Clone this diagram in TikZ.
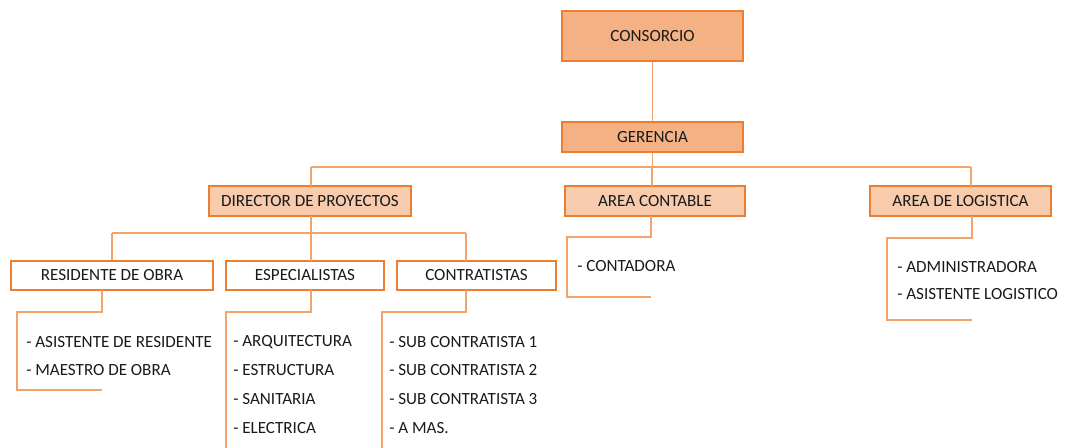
\documentclass[tikz,border=0pt]{standalone}
\usepackage{fontspec}
\setmainfont{Carlito}
\definecolor{org}{HTML}{ED7D31}
\definecolor{lineorg}{HTML}{F4A46A}
\definecolor{fillA}{HTML}{F4B183}
\definecolor{fillB}{HTML}{F8CBAD}
\definecolor{txt}{HTML}{1A1A1A}
\begin{document}
\begin{tikzpicture}[x=0.75pt,y=-0.75pt,
  box/.style={draw=org,line width=0.9pt,inner sep=0pt,font=\fontsize{12.8}{14}\selectfont,text=txt},
  topbox/.style={box,fill=fillA},
  midbox/.style={box,fill=fillB},
  lowbox/.style={box,fill=white},
  conn/.style={draw=lineorg,line width=0.9pt},
  item/.style={anchor=west,inner sep=0pt,font=\fontsize{12.8}{14}\selectfont,text=txt}]
\useasboundingbox (0,0) rectangle (1071,448);
% boxes
\node[topbox,minimum width=181*0.75pt,minimum height=50*0.75pt] (cons) at (652.5,36) {CONSORCIO};
\node[topbox,minimum width=181*0.75pt,minimum height=30*0.75pt] (ger) at (652.5,137) {GERENCIA};
\node[midbox,minimum width=202*0.75pt,minimum height=30*0.75pt] (dir) at (310,201) {DIRECTOR DE PROYECTOS};
\node[midbox,minimum width=180*0.75pt,minimum height=30*0.75pt] (cont) at (655,201) {AREA CONTABLE};
\node[midbox,minimum width=181*0.75pt,minimum height=30*0.75pt] (log) at (960.5,201) {AREA DE LOGISTICA};
\node[lowbox,minimum width=202*0.75pt,minimum height=29*0.75pt] (res) at (112,275.5) {RESIDENTE DE OBRA};
\node[lowbox,minimum width=158*0.75pt,minimum height=29*0.75pt] (esp) at (305,275.5) {ESPECIALISTAS};
\node[lowbox,minimum width=159*0.75pt,minimum height=29*0.75pt] (ctr) at (476.5,275.5) {CONTRATISTAS};
% connectors
\draw[conn] (cons.south) -- (ger.north);
\coordinate (gb) at (652.5,167);
\draw[conn] (ger.south) -- (gb);
\draw[conn] (311,167) -- (971,167);
\draw[conn] (311,167) -- (311,186);
\draw[conn] (652,167) -- (652,186);
\draw[conn] (971,167) -- (971,186);
\draw[conn] (311,216) -- (311,233);
\draw[conn] (112,233) -- (466,233);
\draw[conn] (112,233) -- (res.north);
\draw[conn] (311,233) -- (311,261);
\draw[conn] (466,233) -- (466,261);
% brackets
\draw[conn] (102,290) -- (102,312) -- (17,312) -- (17,390) -- (102,390);
\draw[conn] (311,290) -- (311,312) -- (226,312) -- (226,449);
\draw[conn] (466,290) -- (466,312) -- (382,312) -- (382,449);
\draw[conn] (651,216) -- (651,237) -- (567,237) -- (567,297) -- (651,297);
\draw[conn] (972,216) -- (972,238) -- (887,238) -- (887,320) -- (972,320);
% items
\node[item] (r1) at (26,342) {- ASISTENTE DE RESIDENTE};
\node[item] (r2) at (26,370) {- MAESTRO DE OBRA};
\node[item] (e1) at (233,342) {- ARQUITECTURA};
\node[item] (e2) at (233,370) {- ESTRUCTURA};
\node[item] (e3) at (233,399) {- SANITARIA};
\node[item] (e4) at (233,428) {- ELECTRICA};
\node[item] (c1) at (389,342) {- SUB CONTRATISTA 1};
\node[item] (c2) at (389,370) {- SUB CONTRATISTA 2};
\node[item] (c3) at (389,399) {- SUB CONTRATISTA 3};
\node[item] (c4) at (389,428) {- A MAS.};
\node[item] (k1) at (577,266) {- CONTADORA};
\node[item] (l1) at (897,267) {- ADMINISTRADORA};
\node[item] (l2) at (897,294) {- ASISTENTE LOGISTICO};
\end{tikzpicture}
\end{document}
